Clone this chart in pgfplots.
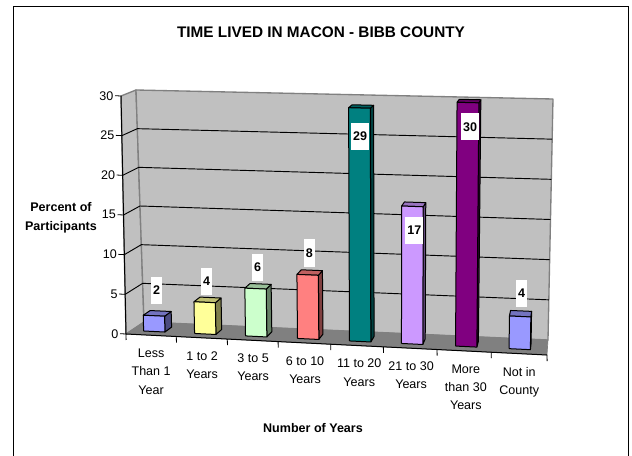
\documentclass[border=0pt]{standalone}
\usepackage{fontspec}
\setmainfont{Liberation Sans}
\usepackage{pgfplots}
\pgfplotsset{compat=1.18}
\usepackage{pgfplotstable}

\definecolor{wallgray}{HTML}{C0C0C0}
\definecolor{floorgray}{HTML}{808080}
\definecolor{barblue}{HTML}{9999FF}
\definecolor{baryellow}{HTML}{FFFF99}
\definecolor{bargreen}{HTML}{CCFFCC}
\definecolor{barred}{HTML}{FF8080}
\definecolor{barteal}{HTML}{008080}
\definecolor{barlilac}{HTML}{CC99FF}
\definecolor{barpurple}{HTML}{800080}

% perspective of the chart box: category 0..8, percent 0..30, depth 0..1 to picture pixels
\pgfplotsset{/pgf/declare function={
  sx(\u,\v,\d)=(1-\d)*((1-\v/30)*(126+421*\u/8)+\v/30*(121+429*\u/8))
              +\d*((1-\v/30)*(144+404*\u/8)+\v/30*(136+417*\u/8));
  sy(\u,\v,\d)=(1-\d)*((1-\v/30)*(334+21*\u/8)+\v/30*(96+11*\u/8))
              +\d*((1-\v/30)*(322+18*\u/8)+\v/30*(90+9*\u/8));
}}

\newcommand{\face}[2]{%
  \addplot[line join=round,#1] table[row sep=\\,
    x expr={sx(\thisrow{u},\thisrow{v},\thisrow{d})},
    y expr={sy(\thisrow{u},\thisrow{v},\thisrow{d})}] {u v d\\ #2};}

% position of bar centre, value, colour
\newcommand{\barbox}[3]{%
  \pgfmathsetmacro{\ul}{#1-0.205}\pgfmathsetmacro{\ur}{#1+0.205}%
  \edef\dobar{%
    \noexpand\face{draw=black,line width=0.75pt,fill=#3!50!black}{\ur\space 0 0.3\\ \ur\space 0 0.7\\ \ur\space #2 0.7\\ \ur\space #2 0.3\\ \ur\space 0 0.3\\}%
    \noexpand\face{draw=black,line width=0.75pt,fill=#3!75!black}{\ul\space #2 0.3\\ \ur\space #2 0.3\\ \ur\space #2 0.7\\ \ul\space #2 0.7\\ \ul\space #2 0.3\\}%
    \noexpand\face{draw=black,line width=0.75pt,fill=#3}{\ul\space 0 0.3\\ \ur\space 0 0.3\\ \ur\space #2 0.3\\ \ul\space #2 0.3\\ \ul\space 0 0.3\\}%
  }\dobar}

\pgfplotstableread{
lx     ly     value
156.7  290.5  2
206.5  281.5  4
257.7  267.5  6
309.3  253    8
360    136.5  29
414.3  230.5  17
470    127    30
521.7  293.5  4
}\barlabels

\begin{document}
\begin{tikzpicture}
\path[use as bounding box] (0,0) rectangle (474pt,342pt);
\begin{axis}[
  name=box,
  scale only axis, width=474pt, height=342pt,
  xmin=0, xmax=632, ymin=0, ymax=456, y dir=reverse,
  axis line style={draw=none}, xtick=\empty, ytick=\empty, clip=false,
  title={TIME LIVED IN MACON - BIBB COUNTY},
  title style={at={(axis cs:321,31)}, anchor=center, inner sep=0pt, yshift=-6.75pt,
    font=\fontsize{11.5}{14}\selectfont\bfseries},
  xlabel={Number of Years},
  xlabel style={at={(axis cs:313,428)}, anchor=center, inner sep=0pt,
    font=\fontsize{9.4}{12}\selectfont\bfseries},
  ylabel={Percent of\\Participants},
  ylabel style={at={(axis cs:61,217.5)}, anchor=center, rotate=-90, align=center, inner sep=0pt,
    font=\fontsize{9.4}{14.2}\selectfont\bfseries},
]
% chart frame, open at the bottom of the picture
\addplot[black, line width=0.75pt] coordinates {(13,456) (13,6.5) (628,6.5) (628,456)};

% walls and floor
\face{draw=floorgray,line width=1pt,fill=wallgray}{0 0 0\\ 0 30 0\\ 0 30 1\\ 0 0 1\\ 0 0 0\\}
\face{draw=floorgray,line width=1pt,fill=wallgray}{0 0 1\\ 0 30 1\\ 8 30 1\\ 8 0 1\\ 0 0 1\\}
\face{draw=floorgray,line width=0.5pt,fill=floorgray}{0 0 0\\ 8 0 0\\ 8 0 1\\ 0 0 1\\ 0 0 0\\}

% gridlines on both walls
\pgfplotsinvokeforeach{5,10,15,20,25}{
  \face{black,line width=0.7pt}{0 #1 0\\ 0 #1 1\\ 8 #1 1\\}
}

\barbox{0.44}{2}{barblue}
\barbox{1.42}{4}{baryellow}
\barbox{2.40}{6}{bargreen}
\barbox{3.40}{8}{barred}
\barbox{4.40}{29}{barteal}
\barbox{5.40}{17}{barlilac}
\barbox{6.44}{30}{barpurple}
\barbox{7.47}{4}{barblue}

% value boxes
\addplot[only marks, mark=none, point meta=explicit,
  nodes near coords,
  nodes near coords style={anchor=center, fill=white, inner xsep=1.5pt, inner ysep=0pt,
    minimum height=20.25pt, text=black, /pgf/number format/assume math mode=true,
    font=\fontsize{9.4}{12}\selectfont\bfseries},
] table[x=lx, y=ly, meta=value] {\barlabels};
\end{axis}

% front axes, skewed along the front edges of the chart box
\begin{axis}[
  at={(94.5pt,91.5pt)}, anchor=origin,
  x={(39.47pt,-1.97pt)}, y={(-0.125pt,5.95pt)},
  xmin=0, xmax=8, ymin=0, ymax=30,
  axis lines=left, axis line style={-, black, line width=0.75pt},
  ytick={0,5,...,30},
  xtick={0.475,1.444,2.413,3.40,4.43,5.415,6.455,7.47},
  xticklabels={Less\\Than 1\\Year, 1 to 2\\Years, 3 to 5\\Years, 6 to 10\\Years,
    11 to 20\\Years, 21 to 30\\Years, More\\than 30\\Years, Not in\\County},
  minor xtick={0,0.956,1.925,2.89,3.89,4.89,5.91,6.94,8},
  major x tick style={draw=none},
  minor x tick style={black, line width=0.6pt},
  minor tick length=4.5pt, major tick length=4.5pt,
  tick align=outside, tick pos=left,
  ytick style={black, line width=0.6pt},
  tick label style={font=\fontsize{9.4}{13.7}\selectfont, /pgf/number format/assume math mode=true},
  xticklabel style={align=center, anchor=north, yshift=-5.5pt, inner sep=0pt},
  yticklabel style={anchor=east, inner sep=1pt},
]
\end{axis}
\end{tikzpicture}
\end{document}
